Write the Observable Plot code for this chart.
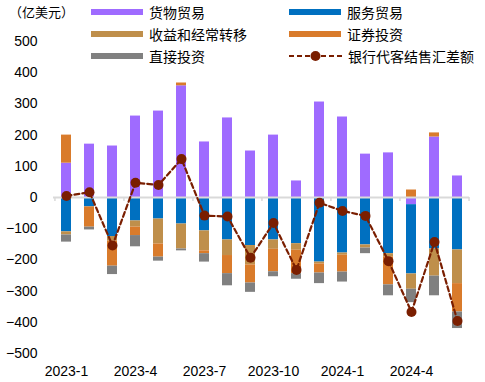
<!DOCTYPE html>
<html>
<head>
<meta charset="utf-8">
<script src="https://cdn.jsdelivr.net/npm/d3@7"></script>
<script src="https://cdn.jsdelivr.net/npm/@observablehq/plot@0.6"></script>
<style>
  html, body { margin: 0; padding: 0; background: #fff; }
  #wrap { position: relative; width: 485px; height: 382px; font-family: "Liberation Sans", Arial, "Noto Sans CJK SC", sans-serif; }
  #chart svg { display: block; }
  .leg { position: absolute; height: 22px; display: flex; align-items: center; font-family: "Noto Sans CJK SC", sans-serif; font-size: 14px; color: #000; white-space: nowrap; }
  .sw { width: 52px; height: 6px; margin-right: 6px; }
  .unit { position: absolute; left: 9px; top: 1px; height: 22px; line-height: 22px; font-family: "Noto Sans CJK SC", sans-serif; font-size: 13px; }
</style>
</head>
<body>
<div id="wrap">
  <div id="chart"></div>
</div>
<script>
const months = ["2023-1","2023-2","2023-3","2023-4","2023-5","2023-6","2023-7","2023-8","2023-9","2023-10","2023-11","2023-12","2024-1","2024-2","2024-3","2024-4","2024-5","2024-6"];
const xTickLabels = ["2023-1","2023-4","2023-7","2023-10","2024-1","2024-4"];
const yTicks = [500,400,300,200,100,0,-100,-200,-300,-400,-500];

const seriesNames = ["货物贸易","服务贸易","收益和经常转移","证券投资","直接投资"];
const seriesColors = ["#9F6BFF","#0070C0","#BF8F4B","#D97B2B","#808080"];
const lineName = "银行代客结售汇差额";
const lineColor = "#7A1E00";

const goods      = [110, 171, 165, 261, 277, 358, 178, 255, 149, 200, 53, 306, 258, 139, 143, -23, 194, 69];
const services   = [-110, -30, -125, -75, -69, -85, -107, -136, -154, -136, -148, -207, -178, -152, -180, -222, -165, -168];
const income     = [-10, 0, -15, -20, -80, -80, -64, -50, -62, -30, -21, -6, -7, -10, -10, -49, -87, -108];
const securities = [90, -65, -80, -27, -42, 9, -9, -58, -58, -72, -75, -29, -54, 0, -90, 24, 13, -91];
const fdi        = [-23, -9, -27, -36, -13, -6, -27, -39, -30, -16, -18, -34, -32, -18, -35, -43, -63, -53];
const netFX      = [5, 17, -154, 47, 40, 123, -58, -61, -193, -82, -232, -17, -43, -59, -204, -367, -143, -396];

const seriesValues = [goods, services, income, securities, fdi];
const barData = [];
seriesNames.forEach((s, i) => months.forEach((m, j) => barData.push({month: m, series: s, value: seriesValues[i][j]})));
const lineData = months.map((m, j) => ({month: m, value: netFX[j]}));

const W = 485, ML = 53, MR = 16;
const step = (W - ML - MR) / months.length;
const tickLeft = xTickLabels;
const tickRight = [months[months.length - 1]];

const chart = Plot.plot({
  width: W, height: 382,
  marginTop: 41, marginBottom: 29, marginLeft: ML, marginRight: MR,
  style: {fontFamily: '"Liberation Sans", Arial, sans-serif', fontSize: "14px", color: "#000", background: "transparent"},
  x: {domain: months, paddingInner: 0.58, paddingOuter: 0.29, label: null},
  y: {domain: [-500, 500], label: null},
  color: {domain: seriesNames, range: seriesColors},
  marks: [
    Plot.barY(barData, {x: "month", y: "value", fill: "series", order: seriesNames}),
    Plot.ruleY([0], {stroke: "#D9D9D9", strokeWidth: 2}),
    Plot.ruleX(tickLeft, {x: d => d, y1: 0, y2: -13, dx: -step / 2, stroke: "#D9D9D9", strokeWidth: 1.5}),
    Plot.ruleX(tickRight, {x: d => d, y1: 0, y2: -13, dx: step / 2, stroke: "#D9D9D9", strokeWidth: 1.5}),
    Plot.line(lineData, {x: "month", y: "value", stroke: lineColor, strokeWidth: 2.2, strokeDasharray: "5,3"}),
    Plot.dot(lineData, {x: "month", y: "value", r: 5, fill: lineColor, stroke: "none"}),
    Plot.axisX(xTickLabels, {tickSize: 0, tickPadding: 13, fontSize: 14}),
    Plot.axisY(yTicks, {tickSize: 0, tickPadding: 16, fontSize: 14})
  ]
});
document.getElementById("chart").appendChild(chart);

// Legend (overlay)
const wrap = document.getElementById("wrap");
const unit = document.createElement("div");
unit.className = "unit";
unit.textContent = "（亿美元）";
wrap.appendChild(unit);

const legendItems = [
  {name: seriesNames[0], color: seriesColors[0], left: 91, cy: 12},
  {name: seriesNames[1], color: seriesColors[1], left: 289, cy: 12},
  {name: seriesNames[2], color: seriesColors[2], left: 91, cy: 34},
  {name: seriesNames[3], color: seriesColors[3], left: 289, cy: 34},
  {name: seriesNames[4], color: seriesColors[4], left: 91, cy: 56},
  {name: lineName, color: lineColor, left: 289, cy: 56, line: true}
];
legendItems.forEach(it => {
  const d = document.createElement("div");
  d.className = "leg";
  d.style.left = it.left + "px";
  d.style.top = (it.cy - 11) + "px";
  if (it.line) {
    const ns = "http://www.w3.org/2000/svg";
    const s = document.createElementNS(ns, "svg");
    s.setAttribute("width", 53); s.setAttribute("height", 12);
    s.style.marginRight = "6px";
    const l = document.createElementNS(ns, "line");
    l.setAttribute("x1", 0); l.setAttribute("x2", 53); l.setAttribute("y1", 6); l.setAttribute("y2", 6);
    l.setAttribute("stroke", it.color); l.setAttribute("stroke-width", 2.2); l.setAttribute("stroke-dasharray", "5,3");
    const c = document.createElementNS(ns, "circle");
    c.setAttribute("cx", 26.5); c.setAttribute("cy", 6); c.setAttribute("r", 5); c.setAttribute("fill", it.color);
    s.appendChild(l); s.appendChild(c);
    d.appendChild(s);
  } else {
    const sw = document.createElement("div");
    sw.className = "sw";
    sw.style.background = it.color;
    d.appendChild(sw);
  }
  const t = document.createElement("span");
  t.textContent = it.name;
  d.appendChild(t);
  wrap.appendChild(d);
});
</script>
</body>
</html>
